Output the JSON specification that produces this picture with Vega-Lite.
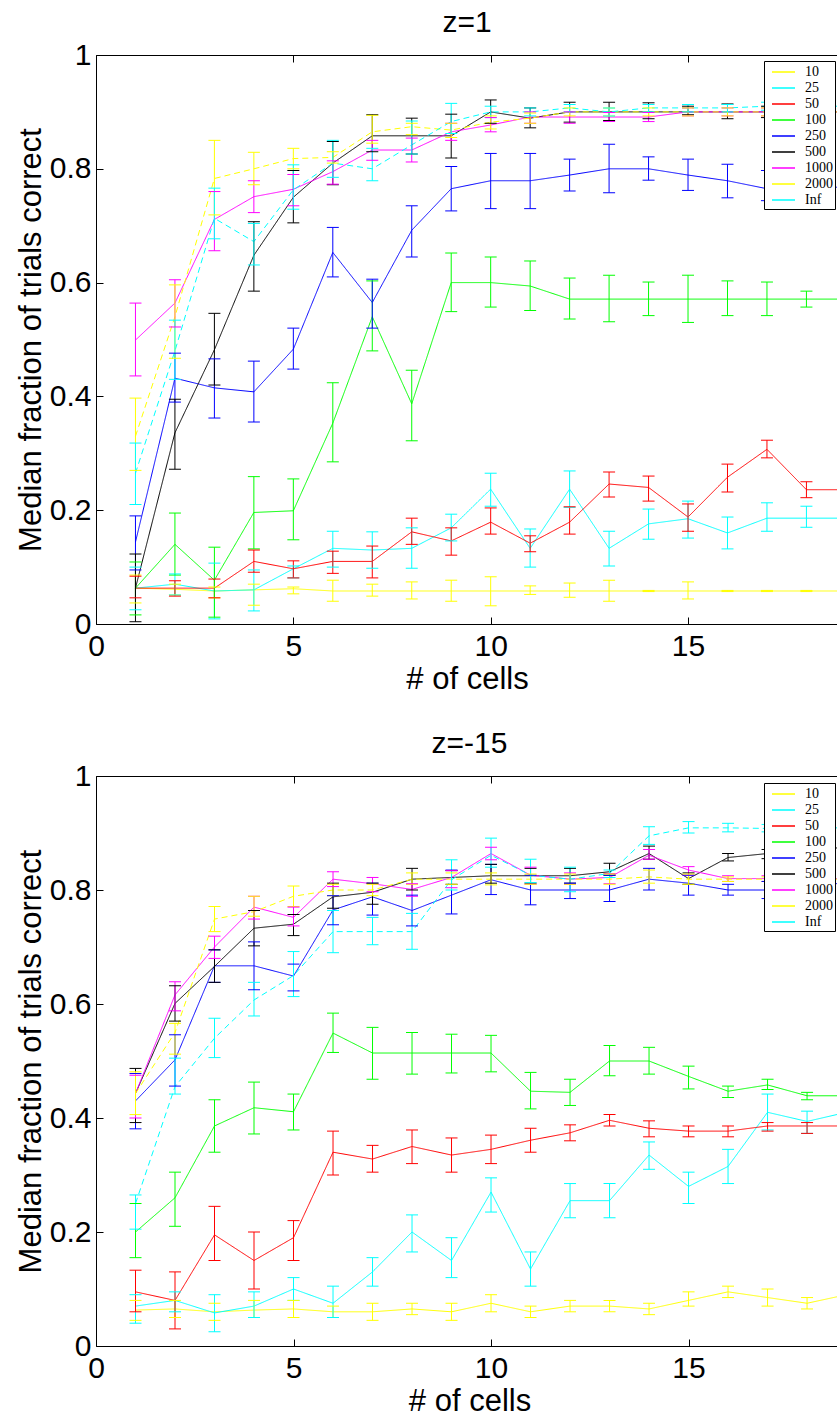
{
"$schema": "https://vega.github.io/schema/vega-lite/v6.json",
"background": "white",
"padding": {"left": 15, "top": 8, "right": 0, "bottom": 0},
"config": {
  "view": {"stroke": null},
  "font": "Liberation Sans",
  "title": {"fontSize": 30, "font": "Liberation Sans", "fontWeight": "normal", "color": "black", "anchor": "middle", "baseline": "bottom", "offset": 2},
  "axis": {"grid": false, "domainColor": "black", "tickColor": "black", "labelColor": "black", "titleColor": "black", "labelFont": "Liberation Sans", "titleFont": "Liberation Sans", "labelFontSize": 30, "titleFontSize": 31, "titleFontWeight": "normal", "tickSize": -7, "labelFlush": false, "labelOverlap": false, "labelBound": false, "domainWidth": 1, "tickWidth": 1},
  "axisX": {"labelPadding": 14, "titlePadding": 3},
  "axisY": {"labelPadding": 12, "titlePadding": 2}
},
"data": {"values": [
{"panel":"z=1","series":"10","x":1,"y":0.063,"lo":0.037,"hi":0.086},
{"panel":"z=1","series":"10","x":2,"y":0.061,"lo":0.051,"hi":0.07},
{"panel":"z=1","series":"10","x":3,"y":0.058,"lo":0.046,"hi":0.065},
{"panel":"z=1","series":"10","x":4,"y":0.06,"lo":0.033,"hi":0.07},
{"panel":"z=1","series":"10","x":5,"y":0.062,"lo":0.053,"hi":0.065},
{"panel":"z=1","series":"10","x":6,"y":0.058,"lo":0.04,"hi":0.077},
{"panel":"z=1","series":"10","x":7,"y":0.058,"lo":0.049,"hi":0.07},
{"panel":"z=1","series":"10","x":8,"y":0.058,"lo":0.044,"hi":0.074},
{"panel":"z=1","series":"10","x":9,"y":0.058,"lo":0.04,"hi":0.077},
{"panel":"z=1","series":"10","x":10,"y":0.058,"lo":0.032,"hi":0.083},
{"panel":"z=1","series":"10","x":11,"y":0.058,"lo":0.052,"hi":0.067},
{"panel":"z=1","series":"10","x":12,"y":0.058,"lo":0.047,"hi":0.072},
{"panel":"z=1","series":"10","x":13,"y":0.058,"lo":0.04,"hi":0.077},
{"panel":"z=1","series":"10","x":14,"y":0.058,"lo":0.057,"hi":0.059},
{"panel":"z=1","series":"10","x":15,"y":0.058,"lo":0.044,"hi":0.074},
{"panel":"z=1","series":"10","x":16,"y":0.058,"lo":0.057,"hi":0.059},
{"panel":"z=1","series":"10","x":17,"y":0.058,"lo":0.057,"hi":0.059},
{"panel":"z=1","series":"10","x":18,"y":0.058,"lo":0.057,"hi":0.059},
{"panel":"z=1","series":"10","x":19,"y":0.058,"lo":0.057,"hi":0.059},
{"panel":"z=1","series":"25","x":1,"y":0.063,"lo":0.025,"hi":0.1},
{"panel":"z=1","series":"25","x":2,"y":0.07,"lo":0.051,"hi":0.088},
{"panel":"z=1","series":"25","x":3,"y":0.058,"lo":0.009,"hi":0.107},
{"panel":"z=1","series":"25","x":4,"y":0.06,"lo":0.023,"hi":0.095},
{"panel":"z=1","series":"25","x":5,"y":0.097,"lo":0.081,"hi":0.102},
{"panel":"z=1","series":"25","x":6,"y":0.133,"lo":0.1,"hi":0.163},
{"panel":"z=1","series":"25","x":7,"y":0.13,"lo":0.098,"hi":0.162},
{"panel":"z=1","series":"25","x":8,"y":0.133,"lo":0.098,"hi":0.169},
{"panel":"z=1","series":"25","x":9,"y":0.169,"lo":0.146,"hi":0.193},
{"panel":"z=1","series":"25","x":10,"y":0.237,"lo":0.207,"hi":0.265},
{"panel":"z=1","series":"25","x":11,"y":0.133,"lo":0.1,"hi":0.167},
{"panel":"z=1","series":"25","x":12,"y":0.237,"lo":0.205,"hi":0.269},
{"panel":"z=1","series":"25","x":13,"y":0.133,"lo":0.102,"hi":0.163},
{"panel":"z=1","series":"25","x":14,"y":0.176,"lo":0.149,"hi":0.202},
{"panel":"z=1","series":"25","x":15,"y":0.185,"lo":0.151,"hi":0.216},
{"panel":"z=1","series":"25","x":16,"y":0.16,"lo":0.132,"hi":0.188},
{"panel":"z=1","series":"25","x":17,"y":0.186,"lo":0.163,"hi":0.213},
{"panel":"z=1","series":"25","x":18,"y":0.186,"lo":0.17,"hi":0.207},
{"panel":"z=1","series":"25","x":19,"y":0.186,"lo":0.17,"hi":0.2},
{"panel":"z=1","series":"50","x":1,"y":0.063,"lo":0.046,"hi":0.084},
{"panel":"z=1","series":"50","x":2,"y":0.063,"lo":0.049,"hi":0.076},
{"panel":"z=1","series":"50","x":3,"y":0.063,"lo":0.046,"hi":0.079},
{"panel":"z=1","series":"50","x":4,"y":0.11,"lo":0.091,"hi":0.13},
{"panel":"z=1","series":"50","x":5,"y":0.097,"lo":0.081,"hi":0.111},
{"panel":"z=1","series":"50","x":6,"y":0.11,"lo":0.089,"hi":0.128},
{"panel":"z=1","series":"50","x":7,"y":0.11,"lo":0.081,"hi":0.137},
{"panel":"z=1","series":"50","x":8,"y":0.162,"lo":0.14,"hi":0.186},
{"panel":"z=1","series":"50","x":9,"y":0.146,"lo":0.121,"hi":0.169},
{"panel":"z=1","series":"50","x":10,"y":0.179,"lo":0.158,"hi":0.204},
{"panel":"z=1","series":"50","x":11,"y":0.142,"lo":0.127,"hi":0.155},
{"panel":"z=1","series":"50","x":12,"y":0.179,"lo":0.158,"hi":0.206},
{"panel":"z=1","series":"50","x":13,"y":0.246,"lo":0.223,"hi":0.267},
{"panel":"z=1","series":"50","x":14,"y":0.24,"lo":0.216,"hi":0.26},
{"panel":"z=1","series":"50","x":15,"y":0.188,"lo":0.163,"hi":0.211},
{"panel":"z=1","series":"50","x":16,"y":0.258,"lo":0.232,"hi":0.281},
{"panel":"z=1","series":"50","x":17,"y":0.307,"lo":0.292,"hi":0.323},
{"panel":"z=1","series":"50","x":18,"y":0.236,"lo":0.222,"hi":0.25},
{"panel":"z=1","series":"50","x":19,"y":0.236,"lo":0.222,"hi":0.25},
{"panel":"z=1","series":"100","x":1,"y":0.063,"lo":0.016,"hi":0.109},
{"panel":"z=1","series":"100","x":2,"y":0.14,"lo":0.086,"hi":0.195},
{"panel":"z=1","series":"100","x":3,"y":0.077,"lo":0.012,"hi":0.135},
{"panel":"z=1","series":"100","x":4,"y":0.196,"lo":0.132,"hi":0.259},
{"panel":"z=1","series":"100","x":5,"y":0.199,"lo":0.148,"hi":0.255},
{"panel":"z=1","series":"100","x":6,"y":0.353,"lo":0.285,"hi":0.424},
{"panel":"z=1","series":"100","x":7,"y":0.54,"lo":0.48,"hi":0.603},
{"panel":"z=1","series":"100","x":8,"y":0.387,"lo":0.322,"hi":0.446},
{"panel":"z=1","series":"100","x":9,"y":0.6,"lo":0.549,"hi":0.652},
{"panel":"z=1","series":"100","x":10,"y":0.6,"lo":0.557,"hi":0.645},
{"panel":"z=1","series":"100","x":11,"y":0.594,"lo":0.551,"hi":0.638},
{"panel":"z=1","series":"100","x":12,"y":0.571,"lo":0.536,"hi":0.608},
{"panel":"z=1","series":"100","x":13,"y":0.571,"lo":0.531,"hi":0.613},
{"panel":"z=1","series":"100","x":14,"y":0.571,"lo":0.542,"hi":0.601},
{"panel":"z=1","series":"100","x":15,"y":0.571,"lo":0.53,"hi":0.613},
{"panel":"z=1","series":"100","x":16,"y":0.571,"lo":0.542,"hi":0.603},
{"panel":"z=1","series":"100","x":17,"y":0.571,"lo":0.542,"hi":0.601},
{"panel":"z=1","series":"100","x":18,"y":0.571,"lo":0.557,"hi":0.585},
{"panel":"z=1","series":"100","x":19,"y":0.571,"lo":0.56,"hi":0.582},
{"panel":"z=1","series":"250","x":1,"y":0.144,"lo":0.095,"hi":0.19},
{"panel":"z=1","series":"250","x":2,"y":0.432,"lo":0.39,"hi":0.476},
{"panel":"z=1","series":"250","x":3,"y":0.415,"lo":0.362,"hi":0.466},
{"panel":"z=1","series":"250","x":4,"y":0.408,"lo":0.355,"hi":0.462},
{"panel":"z=1","series":"250","x":5,"y":0.483,"lo":0.448,"hi":0.52},
{"panel":"z=1","series":"250","x":6,"y":0.653,"lo":0.61,"hi":0.697},
{"panel":"z=1","series":"250","x":7,"y":0.565,"lo":0.52,"hi":0.606},
{"panel":"z=1","series":"250","x":8,"y":0.692,"lo":0.645,"hi":0.735},
{"panel":"z=1","series":"250","x":9,"y":0.765,"lo":0.726,"hi":0.804},
{"panel":"z=1","series":"250","x":10,"y":0.779,"lo":0.73,"hi":0.827},
{"panel":"z=1","series":"250","x":11,"y":0.779,"lo":0.73,"hi":0.827},
{"panel":"z=1","series":"250","x":12,"y":0.789,"lo":0.761,"hi":0.817},
{"panel":"z=1","series":"250","x":13,"y":0.8,"lo":0.758,"hi":0.843},
{"panel":"z=1","series":"250","x":14,"y":0.8,"lo":0.78,"hi":0.821},
{"panel":"z=1","series":"250","x":15,"y":0.789,"lo":0.762,"hi":0.817},
{"panel":"z=1","series":"250","x":16,"y":0.779,"lo":0.749,"hi":0.808},
{"panel":"z=1","series":"250","x":17,"y":0.765,"lo":0.744,"hi":0.797},
{"panel":"z=1","series":"250","x":18,"y":0.76,"lo":0.73,"hi":0.79},
{"panel":"z=1","series":"250","x":19,"y":0.77,"lo":0.74,"hi":0.8},
{"panel":"z=1","series":"500","x":1,"y":0.063,"lo":0.004,"hi":0.123},
{"panel":"z=1","series":"500","x":2,"y":0.336,"lo":0.272,"hi":0.395},
{"panel":"z=1","series":"500","x":3,"y":0.482,"lo":0.42,"hi":0.546},
{"panel":"z=1","series":"500","x":4,"y":0.648,"lo":0.585,"hi":0.707},
{"panel":"z=1","series":"500","x":5,"y":0.75,"lo":0.705,"hi":0.797},
{"panel":"z=1","series":"500","x":6,"y":0.81,"lo":0.772,"hi":0.848},
{"panel":"z=1","series":"500","x":7,"y":0.858,"lo":0.83,"hi":0.895},
{"panel":"z=1","series":"500","x":8,"y":0.858,"lo":0.826,"hi":0.889},
{"panel":"z=1","series":"500","x":9,"y":0.858,"lo":0.819,"hi":0.896},
{"panel":"z=1","series":"500","x":10,"y":0.9,"lo":0.88,"hi":0.921},
{"panel":"z=1","series":"500","x":11,"y":0.889,"lo":0.872,"hi":0.907},
{"panel":"z=1","series":"500","x":12,"y":0.9,"lo":0.882,"hi":0.917},
{"panel":"z=1","series":"500","x":13,"y":0.9,"lo":0.885,"hi":0.917},
{"panel":"z=1","series":"500","x":14,"y":0.9,"lo":0.888,"hi":0.916},
{"panel":"z=1","series":"500","x":15,"y":0.9,"lo":0.895,"hi":0.91},
{"panel":"z=1","series":"500","x":16,"y":0.9,"lo":0.888,"hi":0.914},
{"panel":"z=1","series":"500","x":17,"y":0.9,"lo":0.89,"hi":0.91},
{"panel":"z=1","series":"500","x":18,"y":0.9,"lo":0.89,"hi":0.91},
{"panel":"z=1","series":"500","x":19,"y":0.9,"lo":0.89,"hi":0.91},
{"panel":"z=1","series":"1000","x":1,"y":0.499,"lo":0.436,"hi":0.564},
{"panel":"z=1","series":"1000","x":2,"y":0.564,"lo":0.522,"hi":0.605},
{"panel":"z=1","series":"1000","x":3,"y":0.711,"lo":0.656,"hi":0.76},
{"panel":"z=1","series":"1000","x":4,"y":0.751,"lo":0.723,"hi":0.779},
{"panel":"z=1","series":"1000","x":5,"y":0.764,"lo":0.735,"hi":0.79},
{"panel":"z=1","series":"1000","x":6,"y":0.795,"lo":0.773,"hi":0.814},
{"panel":"z=1","series":"1000","x":7,"y":0.833,"lo":0.815,"hi":0.85},
{"panel":"z=1","series":"1000","x":8,"y":0.833,"lo":0.812,"hi":0.854},
{"panel":"z=1","series":"1000","x":9,"y":0.865,"lo":0.85,"hi":0.88},
{"panel":"z=1","series":"1000","x":10,"y":0.877,"lo":0.865,"hi":0.89},
{"panel":"z=1","series":"1000","x":11,"y":0.891,"lo":0.88,"hi":0.9},
{"panel":"z=1","series":"1000","x":12,"y":0.891,"lo":0.88,"hi":0.9},
{"panel":"z=1","series":"1000","x":13,"y":0.891,"lo":0.883,"hi":0.899},
{"panel":"z=1","series":"1000","x":14,"y":0.891,"lo":0.883,"hi":0.899},
{"panel":"z=1","series":"1000","x":15,"y":0.9,"lo":0.893,"hi":0.907},
{"panel":"z=1","series":"1000","x":16,"y":0.9,"lo":0.893,"hi":0.907},
{"panel":"z=1","series":"1000","x":17,"y":0.9,"lo":0.893,"hi":0.907},
{"panel":"z=1","series":"1000","x":18,"y":0.9,"lo":0.893,"hi":0.907},
{"panel":"z=1","series":"1000","x":19,"y":0.9,"lo":0.893,"hi":0.907},
{"panel":"z=1","series":"2000","x":1,"y":0.33,"lo":0.27,"hi":0.397},
{"panel":"z=1","series":"2000","x":2,"y":0.54,"lo":0.467,"hi":0.596},
{"panel":"z=1","series":"2000","x":3,"y":0.783,"lo":0.719,"hi":0.85},
{"panel":"z=1","series":"2000","x":4,"y":0.8,"lo":0.772,"hi":0.829},
{"panel":"z=1","series":"2000","x":5,"y":0.818,"lo":0.8,"hi":0.836},
{"panel":"z=1","series":"2000","x":6,"y":0.82,"lo":0.81,"hi":0.83},
{"panel":"z=1","series":"2000","x":7,"y":0.865,"lo":0.845,"hi":0.894},
{"panel":"z=1","series":"2000","x":8,"y":0.874,"lo":0.86,"hi":0.88},
{"panel":"z=1","series":"2000","x":9,"y":0.868,"lo":0.855,"hi":0.88},
{"panel":"z=1","series":"2000","x":10,"y":0.882,"lo":0.87,"hi":0.893},
{"panel":"z=1","series":"2000","x":11,"y":0.889,"lo":0.88,"hi":0.898},
{"panel":"z=1","series":"2000","x":12,"y":0.9,"lo":0.893,"hi":0.907},
{"panel":"z=1","series":"2000","x":13,"y":0.9,"lo":0.893,"hi":0.907},
{"panel":"z=1","series":"2000","x":14,"y":0.9,"lo":0.893,"hi":0.907},
{"panel":"z=1","series":"2000","x":15,"y":0.9,"lo":0.893,"hi":0.907},
{"panel":"z=1","series":"2000","x":16,"y":0.9,"lo":0.893,"hi":0.907},
{"panel":"z=1","series":"2000","x":17,"y":0.9,"lo":0.893,"hi":0.907},
{"panel":"z=1","series":"2000","x":18,"y":0.9,"lo":0.893,"hi":0.907},
{"panel":"z=1","series":"2000","x":19,"y":0.9,"lo":0.893,"hi":0.907},
{"panel":"z=1","series":"Inf","x":1,"y":0.265,"lo":0.21,"hi":0.318},
{"panel":"z=1","series":"Inf","x":2,"y":0.48,"lo":0.43,"hi":0.534},
{"panel":"z=1","series":"Inf","x":3,"y":0.713,"lo":0.677,"hi":0.766},
{"panel":"z=1","series":"Inf","x":4,"y":0.672,"lo":0.631,"hi":0.704},
{"panel":"z=1","series":"Inf","x":5,"y":0.763,"lo":0.729,"hi":0.807},
{"panel":"z=1","series":"Inf","x":6,"y":0.81,"lo":0.785,"hi":0.85},
{"panel":"z=1","series":"Inf","x":7,"y":0.8,"lo":0.779,"hi":0.836},
{"panel":"z=1","series":"Inf","x":8,"y":0.842,"lo":0.826,"hi":0.884},
{"panel":"z=1","series":"Inf","x":9,"y":0.883,"lo":0.862,"hi":0.915},
{"panel":"z=1","series":"Inf","x":10,"y":0.9,"lo":0.89,"hi":0.91},
{"panel":"z=1","series":"Inf","x":11,"y":0.9,"lo":0.893,"hi":0.907},
{"panel":"z=1","series":"Inf","x":12,"y":0.907,"lo":0.9,"hi":0.913},
{"panel":"z=1","series":"Inf","x":13,"y":0.9,"lo":0.893,"hi":0.907},
{"panel":"z=1","series":"Inf","x":14,"y":0.907,"lo":0.9,"hi":0.913},
{"panel":"z=1","series":"Inf","x":15,"y":0.907,"lo":0.9,"hi":0.913},
{"panel":"z=1","series":"Inf","x":16,"y":0.907,"lo":0.9,"hi":0.913},
{"panel":"z=1","series":"Inf","x":17,"y":0.91,"lo":0.903,"hi":0.917},
{"panel":"z=1","series":"Inf","x":18,"y":0.91,"lo":0.903,"hi":0.917},
{"panel":"z=1","series":"Inf","x":19,"y":0.91,"lo":0.903,"hi":0.917},
{"panel":"z=-15","series":"10","x":1,"y":0.063,"lo":0.045,"hi":0.08},
{"panel":"z=-15","series":"10","x":2,"y":0.065,"lo":0.05,"hi":0.08},
{"panel":"z=-15","series":"10","x":3,"y":0.06,"lo":0.045,"hi":0.075},
{"panel":"z=-15","series":"10","x":4,"y":0.063,"lo":0.05,"hi":0.08},
{"panel":"z=-15","series":"10","x":5,"y":0.065,"lo":0.05,"hi":0.08},
{"panel":"z=-15","series":"10","x":6,"y":0.06,"lo":0.05,"hi":0.07},
{"panel":"z=-15","series":"10","x":7,"y":0.06,"lo":0.045,"hi":0.075},
{"panel":"z=-15","series":"10","x":8,"y":0.065,"lo":0.055,"hi":0.075},
{"panel":"z=-15","series":"10","x":9,"y":0.06,"lo":0.045,"hi":0.075},
{"panel":"z=-15","series":"10","x":10,"y":0.075,"lo":0.06,"hi":0.09},
{"panel":"z=-15","series":"10","x":11,"y":0.06,"lo":0.05,"hi":0.07},
{"panel":"z=-15","series":"10","x":12,"y":0.07,"lo":0.06,"hi":0.08},
{"panel":"z=-15","series":"10","x":13,"y":0.07,"lo":0.06,"hi":0.08},
{"panel":"z=-15","series":"10","x":14,"y":0.065,"lo":0.055,"hi":0.075},
{"panel":"z=-15","series":"10","x":15,"y":0.08,"lo":0.07,"hi":0.095},
{"panel":"z=-15","series":"10","x":16,"y":0.095,"lo":0.085,"hi":0.105},
{"panel":"z=-15","series":"10","x":17,"y":0.085,"lo":0.07,"hi":0.1},
{"panel":"z=-15","series":"10","x":18,"y":0.075,"lo":0.065,"hi":0.085},
{"panel":"z=-15","series":"10","x":19,"y":0.09,"lo":0.08,"hi":0.1},
{"panel":"z=-15","series":"25","x":1,"y":0.07,"lo":0.04,"hi":0.09},
{"panel":"z=-15","series":"25","x":2,"y":0.08,"lo":0.06,"hi":0.095},
{"panel":"z=-15","series":"25","x":3,"y":0.058,"lo":0.025,"hi":0.09},
{"panel":"z=-15","series":"25","x":4,"y":0.07,"lo":0.05,"hi":0.095},
{"panel":"z=-15","series":"25","x":5,"y":0.1,"lo":0.08,"hi":0.12},
{"panel":"z=-15","series":"25","x":6,"y":0.075,"lo":0.05,"hi":0.105},
{"panel":"z=-15","series":"25","x":7,"y":0.13,"lo":0.105,"hi":0.155},
{"panel":"z=-15","series":"25","x":8,"y":0.2,"lo":0.165,"hi":0.23},
{"panel":"z=-15","series":"25","x":9,"y":0.15,"lo":0.12,"hi":0.19},
{"panel":"z=-15","series":"25","x":10,"y":0.27,"lo":0.235,"hi":0.295},
{"panel":"z=-15","series":"25","x":11,"y":0.135,"lo":0.105,"hi":0.165},
{"panel":"z=-15","series":"25","x":12,"y":0.255,"lo":0.225,"hi":0.285},
{"panel":"z=-15","series":"25","x":13,"y":0.255,"lo":0.225,"hi":0.285},
{"panel":"z=-15","series":"25","x":14,"y":0.335,"lo":0.31,"hi":0.358},
{"panel":"z=-15","series":"25","x":15,"y":0.28,"lo":0.25,"hi":0.305},
{"panel":"z=-15","series":"25","x":16,"y":0.315,"lo":0.285,"hi":0.345},
{"panel":"z=-15","series":"25","x":17,"y":0.41,"lo":0.379,"hi":0.442},
{"panel":"z=-15","series":"25","x":18,"y":0.394,"lo":0.373,"hi":0.412},
{"panel":"z=-15","series":"25","x":19,"y":0.41,"lo":0.39,"hi":0.43},
{"panel":"z=-15","series":"50","x":1,"y":0.095,"lo":0.06,"hi":0.133},
{"panel":"z=-15","series":"50","x":2,"y":0.08,"lo":0.03,"hi":0.13},
{"panel":"z=-15","series":"50","x":3,"y":0.195,"lo":0.15,"hi":0.245},
{"panel":"z=-15","series":"50","x":4,"y":0.15,"lo":0.1,"hi":0.2},
{"panel":"z=-15","series":"50","x":5,"y":0.19,"lo":0.15,"hi":0.22},
{"panel":"z=-15","series":"50","x":6,"y":0.34,"lo":0.3,"hi":0.377},
{"panel":"z=-15","series":"50","x":7,"y":0.328,"lo":0.305,"hi":0.352},
{"panel":"z=-15","series":"50","x":8,"y":0.35,"lo":0.32,"hi":0.379},
{"panel":"z=-15","series":"50","x":9,"y":0.335,"lo":0.305,"hi":0.365},
{"panel":"z=-15","series":"50","x":10,"y":0.345,"lo":0.32,"hi":0.37},
{"panel":"z=-15","series":"50","x":11,"y":0.361,"lo":0.34,"hi":0.382},
{"panel":"z=-15","series":"50","x":12,"y":0.374,"lo":0.36,"hi":0.388},
{"panel":"z=-15","series":"50","x":13,"y":0.396,"lo":0.386,"hi":0.406},
{"panel":"z=-15","series":"50","x":14,"y":0.382,"lo":0.367,"hi":0.395},
{"panel":"z=-15","series":"50","x":15,"y":0.377,"lo":0.367,"hi":0.386},
{"panel":"z=-15","series":"50","x":16,"y":0.377,"lo":0.367,"hi":0.386},
{"panel":"z=-15","series":"50","x":17,"y":0.386,"lo":0.377,"hi":0.392},
{"panel":"z=-15","series":"50","x":18,"y":0.386,"lo":0.373,"hi":0.392},
{"panel":"z=-15","series":"50","x":19,"y":0.386,"lo":0.376,"hi":0.395},
{"panel":"z=-15","series":"100","x":1,"y":0.2,"lo":0.155,"hi":0.25},
{"panel":"z=-15","series":"100","x":2,"y":0.26,"lo":0.21,"hi":0.305},
{"panel":"z=-15","series":"100","x":3,"y":0.386,"lo":0.34,"hi":0.432},
{"panel":"z=-15","series":"100","x":4,"y":0.418,"lo":0.372,"hi":0.463},
{"panel":"z=-15","series":"100","x":5,"y":0.411,"lo":0.379,"hi":0.442},
{"panel":"z=-15","series":"100","x":6,"y":0.549,"lo":0.515,"hi":0.584},
{"panel":"z=-15","series":"100","x":7,"y":0.514,"lo":0.468,"hi":0.559},
{"panel":"z=-15","series":"100","x":8,"y":0.514,"lo":0.477,"hi":0.55},
{"panel":"z=-15","series":"100","x":9,"y":0.514,"lo":0.479,"hi":0.547},
{"panel":"z=-15","series":"100","x":10,"y":0.514,"lo":0.481,"hi":0.545},
{"panel":"z=-15","series":"100","x":11,"y":0.447,"lo":0.416,"hi":0.48},
{"panel":"z=-15","series":"100","x":12,"y":0.445,"lo":0.422,"hi":0.468},
{"panel":"z=-15","series":"100","x":13,"y":0.5,"lo":0.474,"hi":0.527},
{"panel":"z=-15","series":"100","x":14,"y":0.5,"lo":0.477,"hi":0.524},
{"panel":"z=-15","series":"100","x":15,"y":0.473,"lo":0.451,"hi":0.491},
{"panel":"z=-15","series":"100","x":16,"y":0.447,"lo":0.436,"hi":0.456},
{"panel":"z=-15","series":"100","x":17,"y":0.458,"lo":0.45,"hi":0.468},
{"panel":"z=-15","series":"100","x":18,"y":0.439,"lo":0.432,"hi":0.445},
{"panel":"z=-15","series":"100","x":19,"y":0.439,"lo":0.43,"hi":0.448},
{"panel":"z=-15","series":"250","x":1,"y":0.43,"lo":0.381,"hi":0.478},
{"panel":"z=-15","series":"250","x":2,"y":0.502,"lo":0.456,"hi":0.546},
{"panel":"z=-15","series":"250","x":3,"y":0.667,"lo":0.638,"hi":0.695},
{"panel":"z=-15","series":"250","x":4,"y":0.667,"lo":0.625,"hi":0.709},
{"panel":"z=-15","series":"250","x":5,"y":0.649,"lo":0.623,"hi":0.67},
{"panel":"z=-15","series":"250","x":6,"y":0.765,"lo":0.739,"hi":0.79},
{"panel":"z=-15","series":"250","x":7,"y":0.788,"lo":0.756,"hi":0.812},
{"panel":"z=-15","series":"250","x":8,"y":0.764,"lo":0.737,"hi":0.791},
{"panel":"z=-15","series":"250","x":9,"y":0.791,"lo":0.758,"hi":0.835},
{"panel":"z=-15","series":"250","x":10,"y":0.818,"lo":0.792,"hi":0.845},
{"panel":"z=-15","series":"250","x":11,"y":0.8,"lo":0.774,"hi":0.826},
{"panel":"z=-15","series":"250","x":12,"y":0.8,"lo":0.785,"hi":0.812},
{"panel":"z=-15","series":"250","x":13,"y":0.8,"lo":0.78,"hi":0.826},
{"panel":"z=-15","series":"250","x":14,"y":0.819,"lo":0.8,"hi":0.838},
{"panel":"z=-15","series":"250","x":15,"y":0.812,"lo":0.791,"hi":0.826},
{"panel":"z=-15","series":"250","x":16,"y":0.8,"lo":0.791,"hi":0.81},
{"panel":"z=-15","series":"250","x":17,"y":0.8,"lo":0.785,"hi":0.815},
{"panel":"z=-15","series":"250","x":18,"y":0.8,"lo":0.785,"hi":0.815},
{"panel":"z=-15","series":"250","x":19,"y":0.815,"lo":0.8,"hi":0.833},
{"panel":"z=-15","series":"500","x":1,"y":0.443,"lo":0.392,"hi":0.487},
{"panel":"z=-15","series":"500","x":2,"y":0.601,"lo":0.57,"hi":0.632},
{"panel":"z=-15","series":"500","x":3,"y":0.666,"lo":0.638,"hi":0.695},
{"panel":"z=-15","series":"500","x":4,"y":0.733,"lo":0.702,"hi":0.764},
{"panel":"z=-15","series":"500","x":5,"y":0.74,"lo":0.72,"hi":0.757},
{"panel":"z=-15","series":"500","x":6,"y":0.788,"lo":0.768,"hi":0.812},
{"panel":"z=-15","series":"500","x":7,"y":0.796,"lo":0.775,"hi":0.812},
{"panel":"z=-15","series":"500","x":8,"y":0.819,"lo":0.8,"hi":0.838},
{"panel":"z=-15","series":"500","x":9,"y":0.822,"lo":0.81,"hi":0.834},
{"panel":"z=-15","series":"500","x":10,"y":0.825,"lo":0.812,"hi":0.845},
{"panel":"z=-15","series":"500","x":11,"y":0.825,"lo":0.812,"hi":0.838},
{"panel":"z=-15","series":"500","x":12,"y":0.825,"lo":0.812,"hi":0.838},
{"panel":"z=-15","series":"500","x":13,"y":0.832,"lo":0.826,"hi":0.847},
{"panel":"z=-15","series":"500","x":14,"y":0.864,"lo":0.854,"hi":0.877},
{"panel":"z=-15","series":"500","x":15,"y":0.82,"lo":0.81,"hi":0.83},
{"panel":"z=-15","series":"500","x":16,"y":0.857,"lo":0.851,"hi":0.864},
{"panel":"z=-15","series":"500","x":17,"y":0.864,"lo":0.855,"hi":0.871},
{"panel":"z=-15","series":"500","x":18,"y":0.87,"lo":0.86,"hi":0.88},
{"panel":"z=-15","series":"500","x":19,"y":0.875,"lo":0.86,"hi":0.889},
{"panel":"z=-15","series":"1000","x":1,"y":0.443,"lo":0.4,"hi":0.475},
{"panel":"z=-15","series":"1000","x":2,"y":0.616,"lo":0.588,"hi":0.639},
{"panel":"z=-15","series":"1000","x":3,"y":0.7,"lo":0.68,"hi":0.719},
{"panel":"z=-15","series":"1000","x":4,"y":0.77,"lo":0.749,"hi":0.789},
{"panel":"z=-15","series":"1000","x":5,"y":0.752,"lo":0.737,"hi":0.77},
{"panel":"z=-15","series":"1000","x":6,"y":0.819,"lo":0.806,"hi":0.832},
{"panel":"z=-15","series":"1000","x":7,"y":0.811,"lo":0.797,"hi":0.822},
{"panel":"z=-15","series":"1000","x":8,"y":0.801,"lo":0.789,"hi":0.811},
{"panel":"z=-15","series":"1000","x":9,"y":0.822,"lo":0.804,"hi":0.834},
{"panel":"z=-15","series":"1000","x":10,"y":0.864,"lo":0.853,"hi":0.875},
{"panel":"z=-15","series":"1000","x":11,"y":0.826,"lo":0.81,"hi":0.84},
{"panel":"z=-15","series":"1000","x":12,"y":0.819,"lo":0.81,"hi":0.83},
{"panel":"z=-15","series":"1000","x":13,"y":0.822,"lo":0.811,"hi":0.829},
{"panel":"z=-15","series":"1000","x":14,"y":0.861,"lo":0.854,"hi":0.871},
{"panel":"z=-15","series":"1000","x":15,"y":0.835,"lo":0.826,"hi":0.841},
{"panel":"z=-15","series":"1000","x":16,"y":0.82,"lo":0.815,"hi":0.825},
{"panel":"z=-15","series":"1000","x":17,"y":0.82,"lo":0.815,"hi":0.825},
{"panel":"z=-15","series":"1000","x":18,"y":0.82,"lo":0.815,"hi":0.825},
{"panel":"z=-15","series":"1000","x":19,"y":0.82,"lo":0.815,"hi":0.825},
{"panel":"z=-15","series":"2000","x":1,"y":0.443,"lo":0.406,"hi":0.481},
{"panel":"z=-15","series":"2000","x":2,"y":0.55,"lo":0.512,"hi":0.566},
{"panel":"z=-15","series":"2000","x":3,"y":0.749,"lo":0.727,"hi":0.771},
{"panel":"z=-15","series":"2000","x":4,"y":0.762,"lo":0.754,"hi":0.789},
{"panel":"z=-15","series":"2000","x":5,"y":0.789,"lo":0.771,"hi":0.807},
{"panel":"z=-15","series":"2000","x":6,"y":0.8,"lo":0.79,"hi":0.81},
{"panel":"z=-15","series":"2000","x":7,"y":0.8,"lo":0.79,"hi":0.81},
{"panel":"z=-15","series":"2000","x":8,"y":0.819,"lo":0.81,"hi":0.83},
{"panel":"z=-15","series":"2000","x":9,"y":0.819,"lo":0.81,"hi":0.83},
{"panel":"z=-15","series":"2000","x":10,"y":0.819,"lo":0.809,"hi":0.83},
{"panel":"z=-15","series":"2000","x":11,"y":0.819,"lo":0.81,"hi":0.828},
{"panel":"z=-15","series":"2000","x":12,"y":0.819,"lo":0.81,"hi":0.828},
{"panel":"z=-15","series":"2000","x":13,"y":0.819,"lo":0.81,"hi":0.828},
{"panel":"z=-15","series":"2000","x":14,"y":0.823,"lo":0.812,"hi":0.835},
{"panel":"z=-15","series":"2000","x":15,"y":0.819,"lo":0.81,"hi":0.828},
{"panel":"z=-15","series":"2000","x":16,"y":0.819,"lo":0.815,"hi":0.823},
{"panel":"z=-15","series":"2000","x":17,"y":0.819,"lo":0.815,"hi":0.823},
{"panel":"z=-15","series":"2000","x":18,"y":0.819,"lo":0.815,"hi":0.823},
{"panel":"z=-15","series":"2000","x":19,"y":0.819,"lo":0.815,"hi":0.823},
{"panel":"z=-15","series":"Inf","x":1,"y":0.25,"lo":0.205,"hi":0.265},
{"panel":"z=-15","series":"Inf","x":2,"y":0.455,"lo":0.442,"hi":0.505},
{"panel":"z=-15","series":"Inf","x":3,"y":0.54,"lo":0.506,"hi":0.575},
{"panel":"z=-15","series":"Inf","x":4,"y":0.607,"lo":0.579,"hi":0.638},
{"panel":"z=-15","series":"Inf","x":5,"y":0.65,"lo":0.613,"hi":0.692},
{"panel":"z=-15","series":"Inf","x":6,"y":0.727,"lo":0.69,"hi":0.764},
{"panel":"z=-15","series":"Inf","x":7,"y":0.727,"lo":0.704,"hi":0.752},
{"panel":"z=-15","series":"Inf","x":8,"y":0.727,"lo":0.696,"hi":0.759},
{"panel":"z=-15","series":"Inf","x":9,"y":0.818,"lo":0.8,"hi":0.853},
{"panel":"z=-15","series":"Inf","x":10,"y":0.861,"lo":0.84,"hi":0.891},
{"panel":"z=-15","series":"Inf","x":11,"y":0.826,"lo":0.813,"hi":0.854},
{"panel":"z=-15","series":"Inf","x":12,"y":0.819,"lo":0.797,"hi":0.84},
{"panel":"z=-15","series":"Inf","x":13,"y":0.829,"lo":0.822,"hi":0.835},
{"panel":"z=-15","series":"Inf","x":14,"y":0.895,"lo":0.88,"hi":0.911},
{"panel":"z=-15","series":"Inf","x":15,"y":0.909,"lo":0.9,"hi":0.92},
{"panel":"z=-15","series":"Inf","x":16,"y":0.909,"lo":0.902,"hi":0.917},
{"panel":"z=-15","series":"Inf","x":17,"y":0.908,"lo":0.902,"hi":0.915},
{"panel":"z=-15","series":"Inf","x":18,"y":0.909,"lo":0.902,"hi":0.915},
{"panel":"z=-15","series":"Inf","x":19,"y":0.909,"lo":0.902,"hi":0.915}
]},
"spacing": 35,
"resolve": {"scale": {"color": "independent"}, "legend": {"color": "independent"}},
"vconcat": [
{
  "title": {"text": "z=1"},
  "width": 742, "height": 569,
  "transform": [{"filter": "datum.panel === 'z=1'"}],
  "resolve": {"axis": {"x": "independent"}},
  "layer": [
    {"mark": {"type": "line", "clip": true, "strokeWidth": 1},
     "encoding": {
       "x": {"field": "x", "type": "quantitative", "scale": {"domain": [0, 18.8], "nice": false, "zero": false}, "axis": {"orient": "bottom", "values": [0, 5, 10, 15], "format": "~g"}, "title": "# of cells"},
       "y": {"field": "y", "type": "quantitative", "scale": {"domain": [0, 1], "nice": false}, "axis": {"orient": "left", "values": [0, 0.2, 0.4, 0.6, 0.8, 1], "format": "~g"}, "title": "Median fraction of trials correct"},
       "color": {"field": "series", "type": "nominal", "scale": {"domain": ["10","25","50","100","250","500","1000","2000","Inf"], "range": ["#ffff00","#00ffff","#ff0000","#00ff00","#0000ff","#000000","#ff00ff","#ffff00","#00ffff"]},
         "legend": {"orient": "none", "legendX": 668, "legendY": 6, "title": null, "strokeColor": "black", "fillColor": "white", "padding": 2, "symbolType": "M-0.375,0H2.5", "symbolSize": 256, "symbolStrokeWidth": 1.5, "symbolDash": [1, 0], "labelFont": "Liberation Serif", "labelFontSize": 14, "labelColor": "black", "labelOffset": 21, "rowPadding": 0, "labelExpr": "datum.label + ' '"}},
       "strokeDash": {"condition": {"test": "datum.series === '2000' || datum.series === 'Inf'", "value": [6, 4]}, "value": [1, 0]}
     }},
    {"mark": {"type": "rule", "clip": true, "strokeWidth": 1},
     "encoding": {
       "x": {"field": "x", "type": "quantitative", "axis": null, "title": "# of cells"},
       "y": {"field": "lo", "type": "quantitative", "title": "Median fraction of trials correct"},
       "y2": {"field": "hi"},
       "color": {"field": "series", "type": "nominal"}
     }},
    {"mark": {"type": "tick", "orient": "horizontal", "clip": true, "size": 12, "thickness": 1, "opacity": 1},
     "encoding": {
       "x": {"field": "x", "type": "quantitative", "axis": null, "title": "# of cells"},
       "y": {"field": "lo", "type": "quantitative", "title": "Median fraction of trials correct"},
       "color": {"field": "series", "type": "nominal"}
     }},
    {"mark": {"type": "tick", "orient": "horizontal", "clip": true, "size": 12, "thickness": 1, "opacity": 1},
     "encoding": {
       "x": {"field": "x", "type": "quantitative", "axis": {"orient": "top", "values": [0, 5, 10, 15], "title": null, "labels": false}},
       "y": {"field": "hi", "type": "quantitative", "title": "Median fraction of trials correct"},
       "color": {"field": "series", "type": "nominal"}
     }}
  ]
},
{
  "title": {"text": "z=-15"},
  "width": 747, "height": 570,
  "transform": [{"filter": "datum.panel === 'z=-15'"}],
  "resolve": {"axis": {"x": "independent"}},
  "layer": [
    {"mark": {"type": "line", "clip": true, "strokeWidth": 1},
     "encoding": {
       "x": {"field": "x", "type": "quantitative", "scale": {"domain": [0, 18.91], "nice": false, "zero": false}, "axis": {"orient": "bottom", "values": [0, 5, 10, 15], "format": "~g"}, "title": "# of cells"},
       "y": {"field": "y", "type": "quantitative", "scale": {"domain": [0, 1], "nice": false}, "axis": {"orient": "left", "values": [0, 0.2, 0.4, 0.6, 0.8, 1], "format": "~g"}, "title": "Median fraction of trials correct"},
       "color": {"field": "series", "type": "nominal", "scale": {"domain": ["10","25","50","100","250","500","1000","2000","Inf"], "range": ["#ffff00","#00ffff","#ff0000","#00ff00","#0000ff","#000000","#ff00ff","#ffff00","#00ffff"]},
         "legend": {"orient": "none", "legendX": 668, "legendY": 7, "title": null, "strokeColor": "black", "fillColor": "white", "padding": 2, "symbolType": "M-0.375,0H2.5", "symbolSize": 256, "symbolStrokeWidth": 1.5, "symbolDash": [1, 0], "labelFont": "Liberation Serif", "labelFontSize": 14, "labelColor": "black", "labelOffset": 21, "rowPadding": 0, "labelExpr": "datum.label + ' '"}},
       "strokeDash": {"condition": {"test": "datum.series === '2000' || datum.series === 'Inf'", "value": [6, 4]}, "value": [1, 0]}
     }},
    {"mark": {"type": "rule", "clip": true, "strokeWidth": 1},
     "encoding": {
       "x": {"field": "x", "type": "quantitative", "axis": null, "title": "# of cells"},
       "y": {"field": "lo", "type": "quantitative", "title": "Median fraction of trials correct"},
       "y2": {"field": "hi"},
       "color": {"field": "series", "type": "nominal"}
     }},
    {"mark": {"type": "tick", "orient": "horizontal", "clip": true, "size": 12, "thickness": 1, "opacity": 1},
     "encoding": {
       "x": {"field": "x", "type": "quantitative", "axis": null, "title": "# of cells"},
       "y": {"field": "lo", "type": "quantitative", "title": "Median fraction of trials correct"},
       "color": {"field": "series", "type": "nominal"}
     }},
    {"mark": {"type": "tick", "orient": "horizontal", "clip": true, "size": 12, "thickness": 1, "opacity": 1},
     "encoding": {
       "x": {"field": "x", "type": "quantitative", "axis": {"orient": "top", "values": [0, 5, 10, 15], "title": null, "labels": false}},
       "y": {"field": "hi", "type": "quantitative", "title": "Median fraction of trials correct"},
       "color": {"field": "series", "type": "nominal"}
     }}
  ]
}
]
}
